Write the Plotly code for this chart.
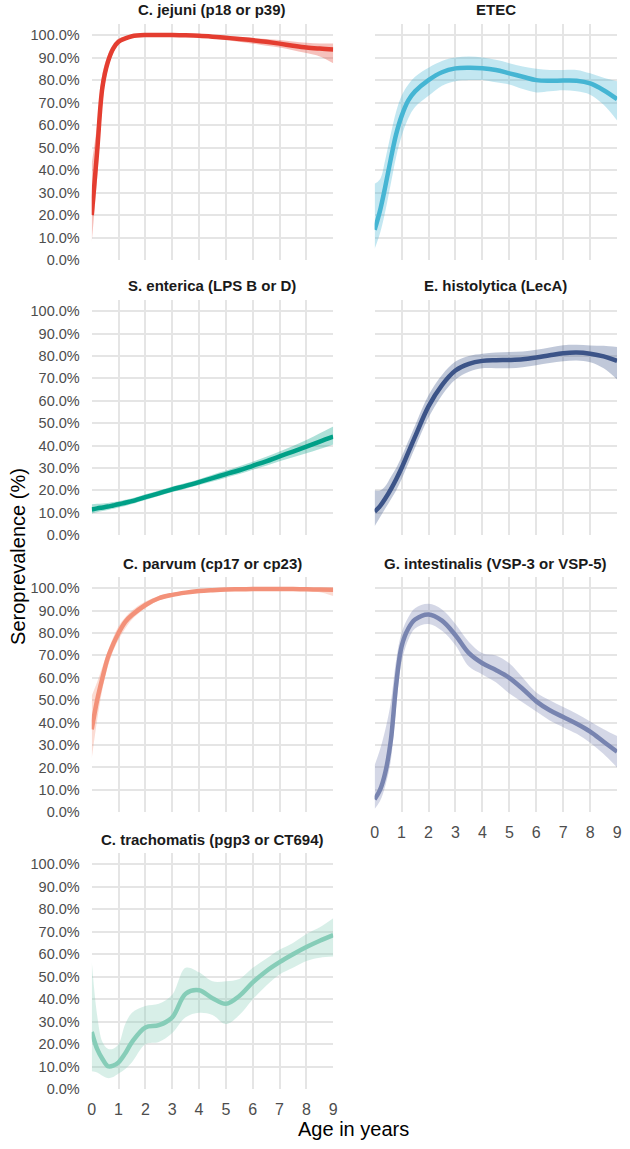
import plotly.graph_objects as go

# age grid (years) shared by every panel
ages = [0, 0.2, 0.4, 0.6, 0.8, 1, 1.25, 1.5, 2, 2.5, 3, 3.5, 4, 4.5, 5, 5.5, 6, 6.5, 7, 7.5, 8, 8.5, 9]

jejuni_mid = [0.20, 0.48, 0.77, 0.88, 0.94, 0.97, 0.985, 0.995, 1.0, 1.0, 1.0, 0.999, 0.997, 0.993, 0.988, 0.983, 0.977, 0.97, 0.962, 0.953, 0.945, 0.94, 0.936]
jejuni_lo = [0.08, 0.36, 0.70, 0.85, 0.92, 0.96, 0.98, 0.99, 0.997, 0.998, 0.997, 0.995, 0.99, 0.985, 0.978, 0.97, 0.962, 0.953, 0.945, 0.933, 0.92, 0.905, 0.875]
jejuni_hi = [0.43, 0.60, 0.83, 0.91, 0.96, 0.985, 0.995, 0.999, 1.0, 1.0, 1.0, 1.0, 1.0, 0.998, 0.995, 0.992, 0.988, 0.983, 0.978, 0.972, 0.966, 0.963, 0.963]

etec_mid = [0.135, 0.22, 0.33, 0.45, 0.56, 0.64, 0.71, 0.75, 0.80, 0.835, 0.852, 0.855, 0.853, 0.845, 0.83, 0.815, 0.80, 0.797, 0.798, 0.797, 0.785, 0.755, 0.715]
etec_lo = [0.05, 0.12, 0.22, 0.34, 0.46, 0.55, 0.63, 0.68, 0.73, 0.775, 0.795, 0.80, 0.80, 0.79, 0.78, 0.76, 0.745, 0.75, 0.755, 0.75, 0.735, 0.69, 0.62]
etec_hi = [0.34, 0.36, 0.45, 0.56, 0.66, 0.73, 0.78, 0.815, 0.855, 0.885, 0.90, 0.905, 0.90, 0.89, 0.875, 0.86, 0.85, 0.845, 0.845, 0.845, 0.83, 0.81, 0.795]

enterica_mid = [0.115, 0.12, 0.124, 0.128, 0.133, 0.138, 0.145, 0.152, 0.17, 0.187, 0.205, 0.22, 0.237, 0.255, 0.273, 0.29, 0.31, 0.33, 0.352, 0.373, 0.395, 0.418, 0.44]
enterica_lo = [0.097, 0.103, 0.108, 0.113, 0.118, 0.124, 0.131, 0.139, 0.157, 0.175, 0.193, 0.208, 0.224, 0.24, 0.257, 0.273, 0.292, 0.31, 0.33, 0.348, 0.366, 0.385, 0.405]
enterica_hi = [0.138, 0.14, 0.142, 0.144, 0.148, 0.152, 0.158, 0.165, 0.183, 0.2, 0.218, 0.233, 0.25, 0.27, 0.289, 0.308, 0.328, 0.35, 0.374, 0.398, 0.425, 0.455, 0.485]

histolytica_mid = [0.105, 0.13, 0.165, 0.205, 0.25, 0.30, 0.37, 0.44, 0.575, 0.67, 0.735, 0.765, 0.778, 0.781, 0.782, 0.785, 0.793, 0.803, 0.812, 0.815, 0.81, 0.798, 0.778]
histolytica_lo = [0.04, 0.08, 0.12, 0.16, 0.20, 0.25, 0.32, 0.39, 0.525, 0.625, 0.695, 0.73, 0.745, 0.745, 0.745, 0.75, 0.758, 0.768, 0.776, 0.78, 0.772, 0.745, 0.695]
histolytica_hi = [0.20, 0.20, 0.22, 0.26, 0.30, 0.35, 0.42, 0.49, 0.625, 0.715, 0.775, 0.80, 0.81, 0.815, 0.818, 0.82, 0.828, 0.838, 0.848, 0.85, 0.847, 0.845, 0.84]

parvum_mid = [0.37, 0.50, 0.60, 0.69, 0.75, 0.80, 0.85, 0.88, 0.925, 0.955, 0.97, 0.98, 0.987, 0.991, 0.994, 0.995, 0.996, 0.996, 0.996, 0.996, 0.995, 0.994, 0.993]
parvum_lo = [0.24, 0.41, 0.55, 0.65, 0.72, 0.77, 0.82, 0.86, 0.91, 0.945, 0.962, 0.974, 0.982, 0.987, 0.99, 0.991, 0.992, 0.992, 0.991, 0.99, 0.987, 0.982, 0.965]
parvum_hi = [0.52, 0.58, 0.65, 0.72, 0.78, 0.83, 0.87, 0.90, 0.94, 0.965, 0.978, 0.986, 0.991, 0.994, 0.996, 0.997, 0.998, 0.998, 0.998, 0.998, 0.998, 0.998, 0.998]

giardia_mid = [0.058, 0.10, 0.18, 0.32, 0.57, 0.74, 0.82, 0.86, 0.883, 0.855, 0.79, 0.71, 0.665, 0.635, 0.60, 0.55, 0.495, 0.455, 0.425, 0.395, 0.36, 0.315, 0.27]
giardia_lo = [0.015, 0.05, 0.12, 0.23, 0.47, 0.67, 0.77, 0.82, 0.84, 0.81, 0.745, 0.65, 0.615, 0.58, 0.53, 0.49, 0.45, 0.41, 0.38, 0.35, 0.31, 0.26, 0.20]
giardia_hi = [0.21, 0.28, 0.37, 0.49, 0.68, 0.80, 0.87, 0.91, 0.93, 0.905, 0.84, 0.76, 0.71, 0.70, 0.665, 0.60, 0.535, 0.50, 0.47, 0.44, 0.405, 0.37, 0.34]

trachomatis_mid = [0.255, 0.18, 0.135, 0.103, 0.105, 0.12, 0.16, 0.21, 0.275, 0.285, 0.32, 0.425, 0.44, 0.405, 0.38, 0.415, 0.475, 0.525, 0.565, 0.60, 0.632, 0.66, 0.685]
trachomatis_lo = [0.08, 0.075, 0.06, 0.05, 0.055, 0.07, 0.09, 0.12, 0.20, 0.21, 0.25, 0.32, 0.34, 0.33, 0.29, 0.33, 0.40, 0.46, 0.51, 0.54, 0.57, 0.585, 0.59]
trachomatis_hi = [0.57, 0.33, 0.21, 0.18, 0.18, 0.20, 0.29, 0.34, 0.37, 0.38, 0.42, 0.54, 0.52, 0.48, 0.48, 0.49, 0.54, 0.58, 0.62, 0.65, 0.69, 0.72, 0.76]

titles = ["C. jejuni (p18 or p39)", "ETEC", "S. enterica (LPS B or D)", "E. histolytica (LecA)",
          "C. parvum (cp17 or cp23)", "G. intestinalis (VSP-3 or VSP-5)", "C. trachomatis (pgp3 or CT694)"]
colors = ["#E43D30", "#45B5D3", "#00A087", "#3C5488", "#F39179", "#7884B0", "#86CDB8"]
mids = [jejuni_mid, etec_mid, enterica_mid, histolytica_mid, parvum_mid, giardia_mid, trachomatis_mid]
los = [jejuni_lo, etec_lo, enterica_lo, histolytica_lo, parvum_lo, giardia_lo, trachomatis_lo]
his = [jejuni_hi, etec_hi, enterica_hi, histolytica_hi, parvum_hi, giardia_hi, trachomatis_hi]

W, H = 630, 1149
col_px = [(89, 334), (376, 622)]
row_px = [(24, 262), (302, 539), (581, 818), (859, 1097)]


def px_x(p):
    return p / W


def px_y(p):
    return 1 - p / H


def rgba(hex_color, a):
    h = hex_color.lstrip('#')
    return f"rgba({int(h[0:2], 16)},{int(h[2:4], 16)},{int(h[4:6], 16)},{a})"


fig = go.Figure()
layout = dict(
    width=W, height=H,
    margin=dict(l=0, r=0, t=0, b=0),
    paper_bgcolor='white', plot_bgcolor='white',
    showlegend=False,
    font=dict(family='Liberation Sans, Arial, sans-serif'),
    annotations=[],
)

for i, title in enumerate(titles):
    row, col = divmod(i, 2)
    n = i + 1
    xa = 'x' if n == 1 else f'x{n}'
    ya = 'y' if n == 1 else f'y{n}'
    color = colors[i]

    fig.add_trace(go.Scatter(x=ages, y=los[i], mode='lines', line=dict(width=0, shape='spline', color=color),
                             xaxis=xa, yaxis=ya, hoverinfo='skip'))
    fig.add_trace(go.Scatter(x=ages, y=his[i], mode='lines', line=dict(width=0, shape='spline', color=color),
                             fill='tonexty', fillcolor=rgba(color, 0.32), xaxis=xa, yaxis=ya, hoverinfo='skip'))
    fig.add_trace(go.Scatter(x=ages, y=mids[i], mode='lines', line=dict(width=4.5, shape='spline', color=color),
                             xaxis=xa, yaxis=ya))

    x0, x1 = col_px[col]
    top, bottom = row_px[row]
    show_x = (i == 5 or i == 6)
    layout['xaxis' if n == 1 else f'xaxis{n}'] = dict(
        domain=[px_x(x0), px_x(x1)], anchor=ya, range=[0, 9],
        tickvals=list(range(10)), showticklabels=show_x, ticks='',
        ticklabelstandoff=9,
        tickfont=dict(size=16, color='#4d4d4d'),
        showgrid=True, gridcolor='#e5e5e5', gridwidth=2, zeroline=False, showline=False,
    )
    layout['yaxis' if n == 1 else f'yaxis{n}'] = dict(
        domain=[px_y(bottom), px_y(top)], anchor=xa, range=[0, 1.05],
        tickvals=[k / 10 for k in range(11)], tickformat='.1%', showticklabels=(col == 0), ticks='',
        ticklabelstandoff=11,
        tickfont=dict(size=14.5, color='#4d4d4d'),
        showgrid=True, gridcolor='#e5e5e5', gridwidth=2, zeroline=False, showline=False,
    )
    layout['annotations'].append(dict(
        text=f"<b>{title}</b>", x=px_x((x0 + x1) / 2), y=px_y(top - 14),
        xref='paper', yref='paper', showarrow=False, xanchor='center', yanchor='middle',
        font=dict(size=15, color='#1a1a1a'),
    ))

layout['annotations'].append(dict(
    text="Age in years", x=px_x(355), y=px_y(1137), xref='paper', yref='paper',
    showarrow=False, xanchor='center', yanchor='middle', font=dict(size=20, color='black'),
))
layout['annotations'].append(dict(
    text="Seroprevalence (%)", x=px_x(14), y=px_y(560), xref='paper', yref='paper',
    showarrow=False, xanchor='center', yanchor='middle', textangle=-90,
    font=dict(size=20, color='black'),
))

fig.update_layout(**layout)
# drop the default 8px body margin so the figure fills the window exactly
fig.write_html("out.html", config={'displayModeBar': False},
               post_script="document.body.style.margin = '0';")
